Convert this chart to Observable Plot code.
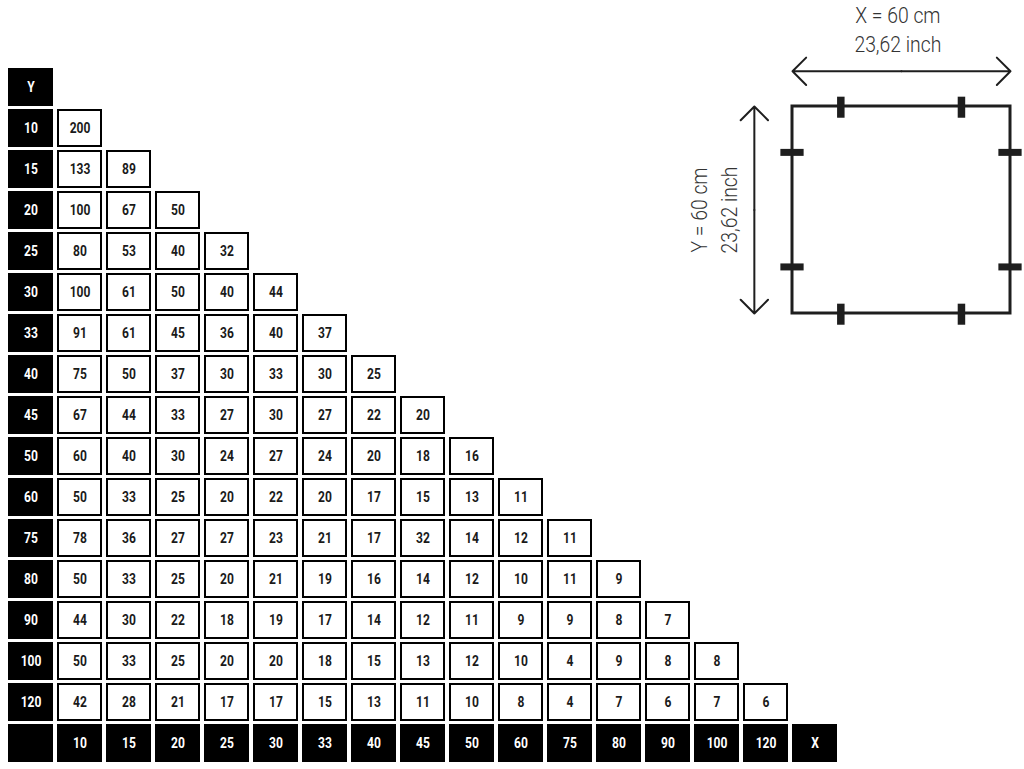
<!DOCTYPE html>
<html>
<head>
<meta charset="utf-8">
<script src="https://cdn.jsdelivr.net/npm/d3@7"></script>
<script src="https://cdn.jsdelivr.net/npm/@observablehq/plot@0.6"></script>
<style>
html, body { margin: 0; padding: 0; background: #fff; }
#wrap { position: relative; width: 1024px; height: 769px; overflow: hidden; }
#wrap svg { position: absolute; left: 0; top: 0; }
</style>
</head>
<body>
<div id="wrap"></div>
<script>
// ---- Data ----
const sizes = ["10", "15", "20", "25", "30", "33", "40", "45", "50", "60", "75", "80", "90", "100", "120"];
const yHeader = "Y";
const xHeader = "X";

const row10  = [200];
const row15  = [133, 89];
const row20  = [100, 67, 50];
const row25  = [80, 53, 40, 32];
const row30  = [100, 61, 50, 40, 44];
const row33  = [91, 61, 45, 36, 40, 37];
const row40  = [75, 50, 37, 30, 33, 30, 25];
const row45  = [67, 44, 33, 27, 30, 27, 22, 20];
const row50  = [60, 40, 30, 24, 27, 24, 20, 18, 16];
const row60  = [50, 33, 25, 20, 22, 20, 17, 15, 13, 11];
const row75  = [78, 36, 27, 27, 23, 21, 17, 32, 14, 12, 11];
const row80  = [50, 33, 25, 20, 21, 19, 16, 14, 12, 10, 11, 9];
const row90  = [44, 30, 22, 18, 19, 17, 14, 12, 11, 9, 9, 8, 7];
const row100 = [50, 33, 25, 20, 20, 18, 15, 13, 12, 10, 4, 9, 8, 8];
const row120 = [42, 28, 21, 17, 17, 15, 13, 11, 10, 8, 4, 7, 6, 7, 6];
const rows = [row10, row15, row20, row25, row30, row33, row40, row45, row50, row60, row75, row80, row90, row100, row120];

// diagram of the panel
const panelWidthCm = 60;
const panelHeightCm = 60;
const panelInch = "23,62";
const fixingsCm = [13.3, 46.5];

// ---- Table build ----
const ROWHDR = "_rowhdr", COLHDR = "_colhdr";
const cells = rows.flatMap((vals, i) => vals.map((v, j) => ({x: sizes[j], y: sizes[i], v: String(v)})));
const headers = [
  {x: ROWHDR, y: yHeader, t: yHeader},
  ...sizes.map(s => ({x: ROWHDR, y: s, t: s})),
  {x: ROWHDR, y: COLHDR, t: ""},
  ...sizes.map(s => ({x: s, y: COLHDR, t: s})),
  {x: xHeader, y: COLHDR, t: xHeader}
];

const cellFont = "'Roboto', 'Liberation Sans', sans-serif";

const table = Plot.plot({
  width: 1024,
  height: 769,
  style: {background: "transparent"},
  x: {type: "band", domain: [ROWHDR, ...sizes, xHeader], range: [3, 843], paddingInner: 0.073, paddingOuter: 0, axis: null},
  y: {type: "band", domain: [yHeader, ...sizes, COLHDR], range: [61.7, 768.5], paddingInner: 0.065, paddingOuter: 0, axis: null},
  marks: [
    Plot.cell(headers, {x: "x", y: "y", fill: "#000"}),
    Plot.text(headers, {x: "x", y: "y", text: "t", fill: "#fff", fontSize: 14, fontWeight: "bold", fontFamily: cellFont, className: "squeeze"}),
    Plot.cell(cells, {x: "x", y: "y", fill: "#fff", stroke: "#000", strokeWidth: 2, inset: 1}),
    Plot.text(cells, {x: "x", y: "y", text: "v", fill: "#1a1a1a", fontSize: 14, fontWeight: "bold", fontFamily: cellFont, className: "squeeze"})
  ]
});

const dark = "#1e1e1e";
const diagFont = "'Roboto', 'Liberation Sans', sans-serif";
const topBottom = fixingsCm.flatMap(p => [{p, s: 0}, {p, s: panelHeightCm}]);
const leftRight = fixingsCm.flatMap(p => [{p, s: 0}, {p, s: panelWidthCm}]);
const arrowY = -10.2, arrowX = -10.5;

const diagram = Plot.plot({
  width: 1024,
  height: 769,
  style: {background: "transparent", overflow: "visible"},
  x: {domain: [0, panelWidthCm], range: [792, 1010], axis: null},
  y: {domain: [0, panelHeightCm], range: [106, 313], axis: null},
  marks: [
    Plot.rect([panelWidthCm], {x1: 0, x2: d => d, y1: 0, y2: panelHeightCm, fill: "none", stroke: dark, strokeWidth: 3}),
    Plot.ruleX(topBottom, {x: "p", y1: d => d.s - 2.7, y2: d => d.s + 3.4, stroke: dark, strokeWidth: 7.5}),
    Plot.ruleY(leftRight, {y: "p", x1: d => d.s - 3.2, x2: d => d.s + 3.2, stroke: dark, strokeWidth: 7}),
    Plot.arrow([0, panelWidthCm], {x1: panelWidthCm / 2, x2: d => d, y1: arrowY, y2: arrowY, stroke: dark, strokeWidth: 2, headAngle: 90, headLength: 14.5}),
    Plot.arrow([0, panelHeightCm], {y1: panelHeightCm / 2, y2: d => d, x1: arrowX, x2: arrowX, stroke: dark, strokeWidth: 2, headAngle: 90, headLength: 14.5}),
    Plot.text([`X = ${panelWidthCm} cm`, `${panelInch} inch`], {x: 29, y: (d, i) => i === 0 ? -26.3 : -17.9, text: d => d, fill: "#333", fontSize: 21.5, fontWeight: 300, fontFamily: diagFont, className: "squeeze-light"}),
    Plot.text([`Y = ${panelHeightCm} cm`, `${panelInch} inch`], {x: (d, i) => i === 0 ? -25.3 : -17.1, y: 30, text: d => d, rotate: -90, fill: "#333", fontSize: 21.5, fontWeight: 300, fontFamily: diagFont, className: "squeeze-light"})
  ]
});

const wrap = document.getElementById("wrap");
wrap.appendChild(table);
wrap.appendChild(diagram);

// condense the type horizontally (the original uses a condensed face)
function squeeze(selector, k) {
  wrap.querySelectorAll(selector).forEach(t => {
    const w = t.getComputedTextLength();
    if (w > 0) {
      t.setAttribute("textLength", (w * k).toFixed(2));
      t.setAttribute("lengthAdjust", "spacingAndGlyphs");
    }
  });
}
squeeze(".squeeze text", 0.86);
squeeze(".squeeze-light text", 0.9);
</script>
</body>
</html>
